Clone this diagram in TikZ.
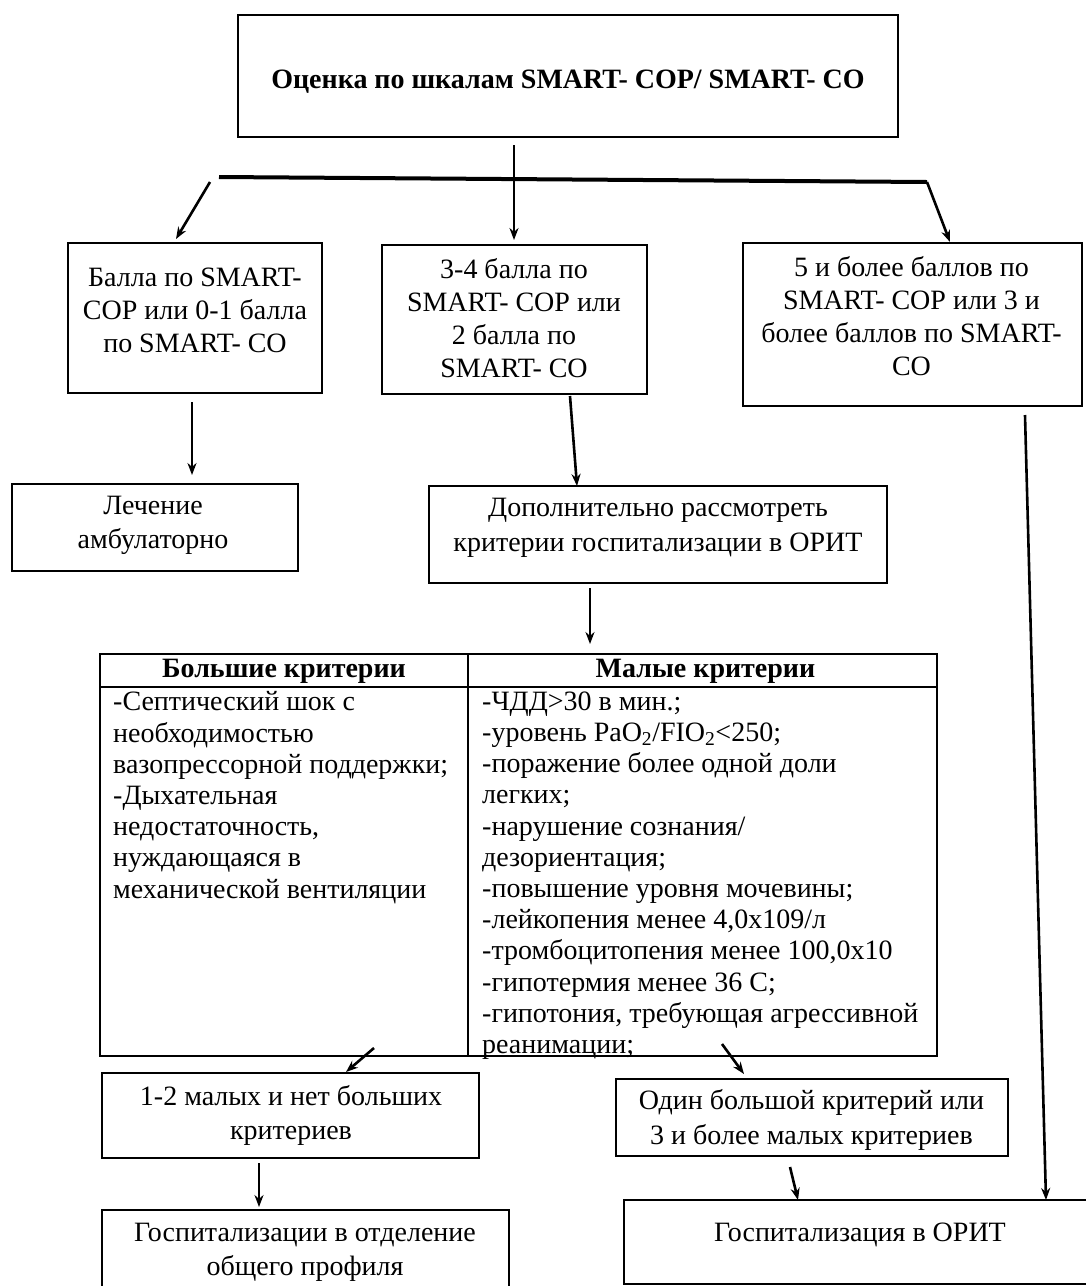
\documentclass[tikz,border=0pt]{standalone}
\usepackage{fontspec}
\setmainfont{Liberation Serif}
\usetikzlibrary{arrows.meta}
\begin{document}
\begin{tikzpicture}[x=1pt,y=-1pt,
  box/.style={draw, line width=1.6pt, inner sep=0pt, outer sep=0pt},
  txt/.style={align=center, inner sep=0pt, font=\fontsize{28}{33}\selectfont},
  txtb/.style={align=center, inner sep=0pt, font=\fontsize{28}{34.5}\selectfont},
  tbl/.style={align=left, inner sep=0pt, anchor=north west, font=\fontsize{28}{31.2}\selectfont},
  hdr/.style={inner sep=0pt, font=\fontsize{28}{31}\selectfont\bfseries},
  arr/.style={line width=2.6pt, -{Stealth[length=12pt,width=9pt]}},
  thick line/.style={line width=4pt}
]
\useasboundingbox (0,0) rectangle (1086,1286);
\clip (0,0) rectangle (1086,1286);
\fill[white] (0,0) rectangle (1086,1286);

% boxes
\node[box, minimum width=660, minimum height=122] (top) at (568,76) {};
\node[box, minimum width=254, minimum height=150] (b1) at (195,318) {};
\node[box, minimum width=265, minimum height=149] (b2) at (514.5,319.5) {};
\node[box, minimum width=339, minimum height=163] (b3) at (912.5,324.5) {};
\node[box, minimum width=286, minimum height=87] (lech) at (155,527.5) {};
\node[box, minimum width=458, minimum height=97] (dop) at (658,534.5) {};
\node[box, minimum width=837, minimum height=402] (tab) at (518.5,855) {};
\node[box, minimum width=377, minimum height=85] (s12) at (290.5,1115.5) {};
\node[box, minimum width=392, minimum height=77] (one) at (812,1117.5) {};
\node[box, minimum width=407, minimum height=120] (gosp) at (305.5,1270) {};
\node[box, minimum width=506, minimum height=84] (orit) at (877,1242) {};

% table rules
\coordinate (hy) at (0,687);
\coordinate (dx) at (468,0);
\draw[line width=1.6pt] (tab.west |- hy) -- (tab.east |- hy);
\draw[line width=1.6pt] (tab.north -| dx) -- (tab.south -| dx);

% texts
\node[inner sep=0pt, font=\fontsize{28}{33}\selectfont\bfseries] (ttop) at (568,82) {Оценка по шкалам SMART- COP/ SMART- CO};
\node[txt] (t1) at (195,310.5) {Балла по SMART-\\COP или 0-1 балла\\по SMART- CO};
\node[txt] (t2) at (514,318) {3-4 балла по\\SMART- COP или\\2 балла по\\SMART- CO};
\node[txt] (t3) at (911.5,316.5) {5 и более баллов по\\SMART- COP или 3 и\\более баллов по SMART-\\CO};
\node[txtb] (tl) at (153,525.5) {Лечение\\амбулаторно};
\node[txtb] (td) at (658,528) {Дополнительно рассмотреть\\критерии госпитализации в ОРИТ};
\node[hdr] (hb) at (284,671) {Большие критерии};
\node[hdr] (hm) at (705.5,671) {Малые критерии};
\node[tbl] (tbL) at (113,691.5) {-Септический шок с\\необходимостью\\вазопрессорной поддержки;\\-Дыхательная\\недостаточность,\\нуждающаяся в\\механической вентиляции};
\node[tbl] (tbR) at (482,691.5) {-ЧДД>30 в мин.;\\-уровень PaO\textsubscript{2}/FIO\textsubscript{2}<250;\\-поражение более одной доли\\легких;\\-нарушение сознания/\\дезориентация;\\-повышение уровня мочевины;\\-лейкопения менее 4,0х109/л\\-тромбоцитопения менее 100,0х10\\-гипотермия менее 36 С;\\-гипотония, требующая агрессивной\\реанимации;};
\node[txtb] (ts12) at (291,1115.5) {1-2 малых и нет больших\\критериев};
\node[txtb] (tone) at (811.5,1120) {Один большой критерий или\\3 и более малых критериев};
\node[txtb] (tgosp) at (305,1252.5) {Госпитализации в отделение\\общего профиля};
\node[txtb] (torit) at (860,1235) {Госпитализация в ОРИТ};

% connectors
\coordinate (hL) at (219,177);
\coordinate (hR) at (927,182);
\coordinate (aL) at (210,182);
\draw[thick line] (hL) -- (hR);
\draw[arr] ([xshift=-54pt,yshift=-8pt]top.south) -- ([xshift=-0.5pt,yshift=5pt]b2.north);
\draw[arr] (aL) -- ([xshift=-19pt,yshift=4pt]b1.north);
\draw[arr] (hR) -- ([xshift=37.5pt,yshift=1pt]b3.north);
\draw[arr] ([xshift=-3pt,yshift=-9pt]b1.south) -- ([xshift=37pt,yshift=9pt]lech.north);
\draw[arr] ([xshift=55.5pt,yshift=-2pt]b2.south) -- ([xshift=-81pt]dop.north);
\draw[arr] ([xshift=-68pt,yshift=-5pt]dop.south) -- ([xshift=71.5pt,yshift=10pt]tab.north);
\draw[arr] ([xshift=112.5pt,yshift=-9pt]b3.south) -- ([xshift=169pt]orit.north);
\draw[arr] ([xshift=-144.5pt,yshift=8pt]tab.south) -- ([xshift=55.5pt,yshift=1pt]s12.north);
\draw[arr] ([xshift=203.5pt,yshift=12pt]tab.south) -- ([xshift=-68pt,yshift=5pt]one.north);
\draw[arr] ([xshift=-31.5pt,yshift=-5pt]s12.south) -- ([xshift=-46.5pt,yshift=3pt]gosp.north);
\draw[arr] ([xshift=-22pt,yshift=-11pt]one.south) -- ([xshift=-79pt]orit.north);
\end{tikzpicture}
\end{document}
